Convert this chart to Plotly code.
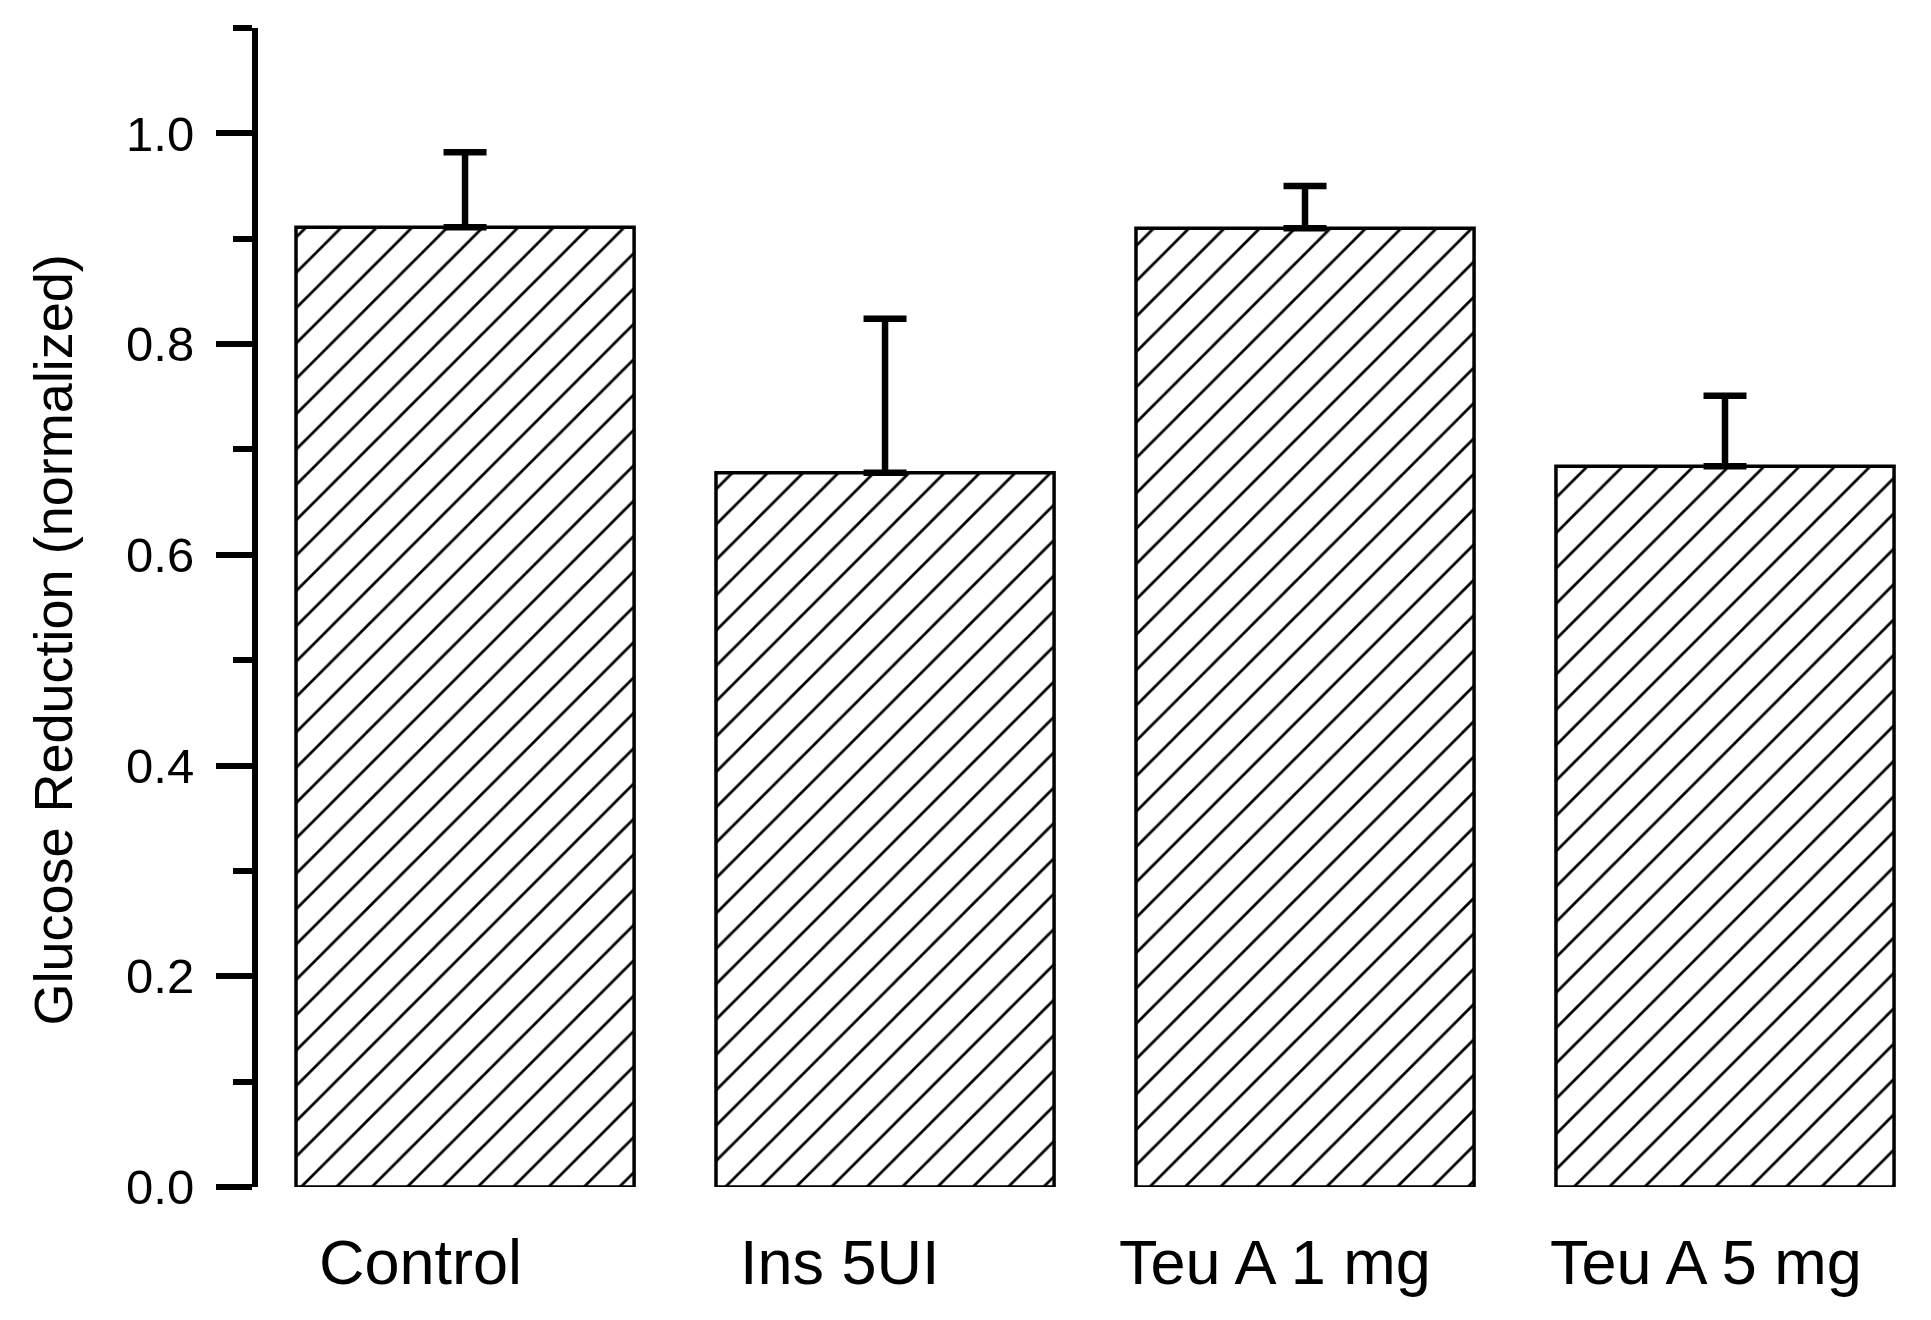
import plotly.graph_objects as go

# ---- data ----
categories = ["Control", "Ins 5UI", "Teu A 1 mg", "Teu A 5 mg"]
means = [0.911, 0.678, 0.910, 0.684]
err_plus = [0.071, 0.146, 0.040, 0.067]
y_title = "Glucose Reduction (normalized)"

# ---- styling ----
FONT = "Liberation Sans, Arial, Helvetica, sans-serif"
label_xshift = [-45, -45, -30, -19]

fig = go.Figure()
fig.add_trace(go.Bar(
    x=categories,
    y=means,
    width=0.805,
    marker=dict(
        color="white",
        line=dict(color="black", width=3.5),
        pattern=dict(shape="/", fgcolor="black", bgcolor="white",
                     fgopacity=1, size=25, solidity=0.11, fillmode="replace"),
    ),
    error_y=dict(type="data", symmetric=False, array=err_plus,
                 arrayminus=[0] * len(err_plus),
                 color="black", thickness=6.5, width=21.5),
    showlegend=False,
))

for cat, sh in zip(categories, label_xshift):
    fig.add_annotation(x=cat, xref="x", y=-0.0647, yref="paper",
                       text=cat, showarrow=False, xshift=sh,
                       xanchor="center", yanchor="middle",
                       font=dict(family=FONT, size=63, color="black"))

fig.add_annotation(x=-0.124, xref="paper", y=0.472, yref="paper",
                   text=y_title, textangle=-90, showarrow=False,
                   xanchor="center", yanchor="middle",
                   font=dict(family=FONT, size=54, color="black"))

fig.update_layout(
    width=1923, height=1312,
    margin=dict(l=250, r=17, t=20, b=133, pad=0),
    paper_bgcolor="white", plot_bgcolor="white",
    font=dict(family=FONT, color="black"),
)
fig.update_xaxes(type="category", range=[-0.493, 3.45], showline=False,
                 showticklabels=False, ticks="", showgrid=False, zeroline=False)
fig.update_yaxes(range=[0, 1.1000001], tick0=0, dtick=0.2, tickformat=".1f",
                 showline=True, linewidth=6, linecolor="black",
                 ticks="outside", ticklen=36, tickwidth=6, tickcolor="black",
                 ticklabelstandoff=12,
                 tickfont=dict(family=FONT, size=49, color="black"),
                 showgrid=False, zeroline=False,
                 minor=dict(dtick=0.1, tick0=0, ticks="outside", ticklen=19,
                            tickwidth=6, tickcolor="black", showgrid=False))

fig.write_html("out.html")
